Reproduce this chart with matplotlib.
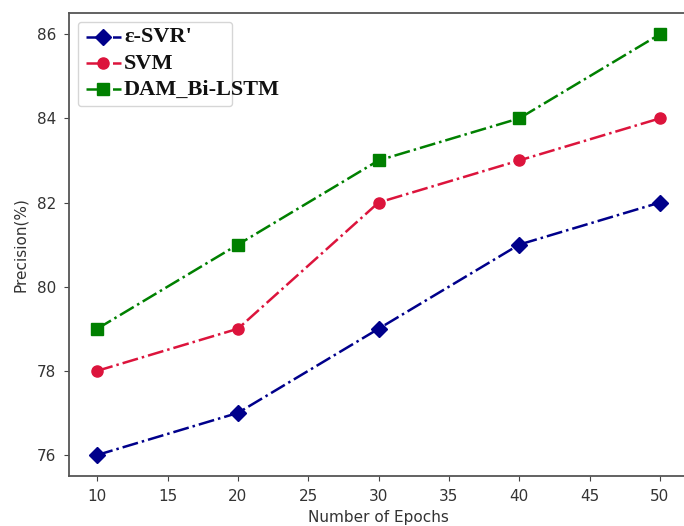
import matplotlib.pyplot as plt

epochs = [10, 20, 30, 40, 50]
svr = [76, 77, 79, 81, 82]
svm = [78, 79, 82, 83, 84]
dam_bilstm = [79, 81, 83, 84, 86]
labels = ["ε-SVR'", 'SVM', 'DAM_Bi-LSTM']

fig = plt.figure(figsize=(6.84, 5.26), dpi=100)
ax = fig.add_axes([0.101, 0.095, 0.905, 0.88])

ax.plot(epochs, svr, color='darkblue', linestyle='-.', marker='D', markersize=8, linewidth=1.8, label=labels[0])
ax.plot(epochs, svm, color='crimson', linestyle='-.', marker='o', markersize=8, linewidth=1.8, label=labels[1])
ax.plot(epochs, dam_bilstm, color='green', linestyle='-.', marker='s', markersize=8, linewidth=1.8, label=labels[2])

ax.set_xlabel('Number of Epochs', fontsize=11, color='#333333')
ax.set_ylabel('Precision(%)', fontsize=11, color='#333333', labelpad=6)
ax.set_xticks([10, 15, 20, 25, 30, 35, 40, 45, 50])
ax.set_yticks([76, 78, 80, 82, 84, 86])
ax.tick_params(labelsize=11, labelcolor='#333333', color='#444444', pad=6)
for sp in ax.spines.values():
    sp.set_color('#555555')
    sp.set_linewidth(1.3)

# legend box is narrower than its bold serif labels in the original,
# so the labels are drawn on top of hidden legend texts
leg = ax.legend(loc='upper left', fontsize=11, handlelength=2.3, handletextpad=0.0,
                labelspacing=0.73, borderpad=0.5, borderaxespad=0.6)
fig.canvas.draw()
W, H = fig.canvas.get_width_height()
for t, lab in zip(leg.get_texts(), labels):
    bb = t.get_window_extent()
    t.set_visible(False)
    fig.text((bb.x0 + 3) / W, (bb.y0 + bb.y1) / 2 / H, lab, va='center', ha='left',
             family='Liberation Serif', weight='bold', fontsize=16, color='#111111')

fig.savefig('out.png', dpi=100)
